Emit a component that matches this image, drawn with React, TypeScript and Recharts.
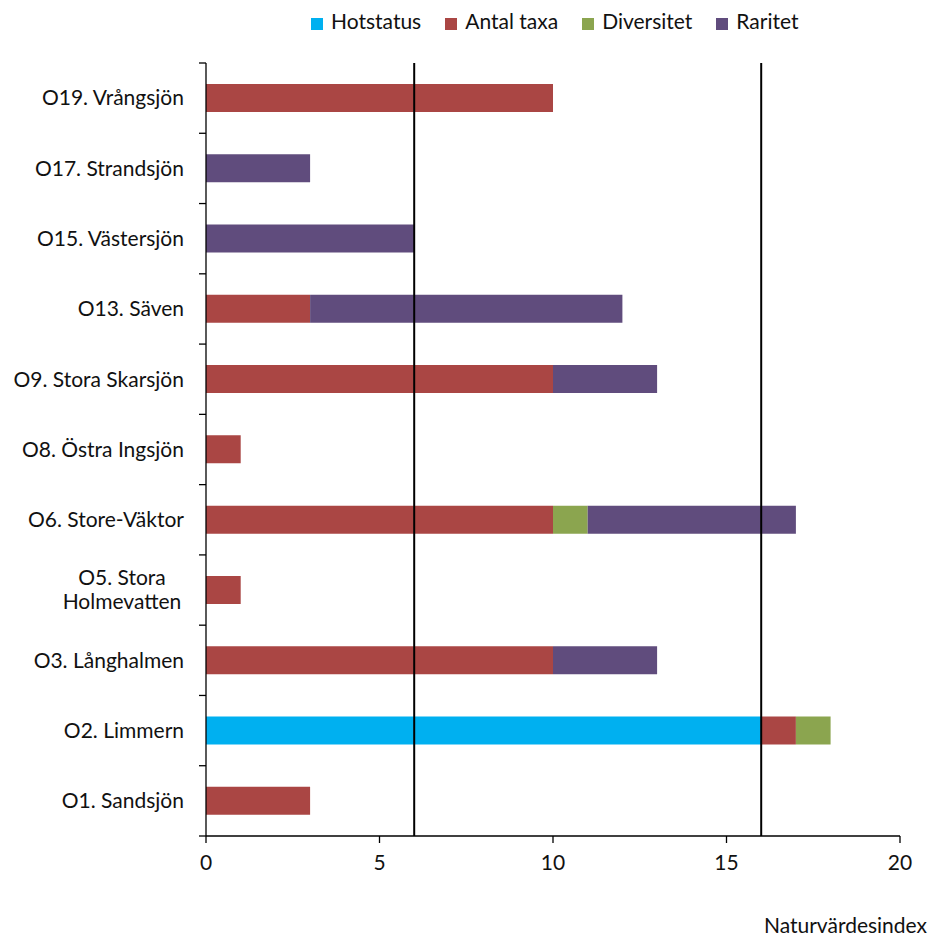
import React from 'react'
import {
  BarChart, Bar, XAxis, YAxis, Legend, ReferenceLine, Label,
} from 'recharts'

const lakes = [
  'O19. Vrångsjön',
  'O17. Strandsjön',
  'O15. Västersjön',
  'O13. Säven',
  'O9. Stora Skarsjön',
  'O8. Östra Ingsjön',
  'O6. Store-Väktor',
  'O5. Stora Holmevatten',
  'O3. Långhalmen',
  'O2. Limmern',
  'O1. Sandsjön',
]
const hotstatus = [0, 0, 0, 0, 0, 0, 0, 0, 0, 16, 0]
const antalTaxa = [10, 0, 0, 3, 10, 1, 10, 1, 10, 1, 3]
const diversitet = [0, 0, 0, 0, 0, 0, 1, 0, 0, 1, 0]
const raritet = [0, 3, 6, 9, 3, 0, 6, 0, 3, 0, 0]
const seriesNames = ['Hotstatus', 'Antal taxa', 'Diversitet', 'Raritet']
const xTicks = [0, 5, 10, 15, 20]
const thresholds = [6, 16]

const data = lakes.map((name, i) => ({
  name,
  hot: hotstatus[i],
  antal: antalTaxa[i],
  div: diversitet[i],
  rar: raritet[i],
}))

const W = 931
const H = 936
const LEGEND_H = 22
const M = { top: 63 - LEGEND_H, right: 31, bottom: 0, left: 0 }
const Y_WIDTH = 206
const X_HEIGHT = 100
const BAND = (836 - 63) / lakes.length
const GAP = 22
const FONT = 'Lato, sans-serif'
const FS = 21

function LakeTick(props: any) {
  const { x, y, payload, index } = props
  const label: string = payload.value
  const ax = x + GAP
  const cut = label.lastIndexOf(' ')
  const lines = label.length > 20 ? [label.slice(0, cut), label.slice(cut + 1)] : [label]
  return (
    <g>
      <line x1={ax - 7} x2={ax} y1={y - BAND / 2} y2={y - BAND / 2} stroke="#000" strokeWidth={1.3} />
      {index === lakes.length - 1 && (
        <line x1={ax - 7} x2={ax} y1={y + BAND / 2} y2={y + BAND / 2} stroke="#000" strokeWidth={1.3} />
      )}
      {lines.length === 1 ? (
        <text x={x} y={y} dy="0.35em" textAnchor="end" fontSize={FS} fontFamily={FONT} fill="#111">
          {label}
        </text>
      ) : (
        lines.map((l, k) => (
          <text key={k} x={x - 62} y={y + (k === 0 ? -12 : 12)} dy="0.35em" textAnchor="middle"
            fontSize={FS} fontFamily={FONT} fill="#111">
            {l}
          </text>
        ))
      )}
    </g>
  )
}

export default function App() {
  return (
    <div style={{ position: 'absolute', left: 0, top: 0, background: '#fff' }}>
      <BarChart width={W} height={H} data={data} layout="vertical" margin={M} barSize={28}>
        <XAxis
          type="number"
          domain={[0, 20]}
          ticks={xTicks}
          height={X_HEIGHT}
          tick={{ fontSize: FS, fontFamily: FONT, fill: '#111' }}
          tickSize={7}
          tickMargin={12}
          stroke="#000"
          strokeWidth={1.3}
        >
          <Label
            value="Naturvärdesindex"
            position="insideBottomRight"
            offset={0}
            dx={27}
            dy={-3}
            style={{ fontSize: FS, fontFamily: FONT, fill: '#111' }}
          />
        </XAxis>
        <YAxis
          type="category"
          dataKey="name"
          width={Y_WIDTH}
          tickLine={false}
          tickSize={0}
          tickMargin={GAP}
          tick={<LakeTick />}
          interval={0}
          stroke="#000"
          strokeWidth={1.3}
        />
        <Legend
          verticalAlign="top"
          align="left"
          iconType="square"
          iconSize={12}
          height={LEGEND_H}
          itemSorter={(item: any) => seriesNames.indexOf(item.value)}
          wrapperStyle={{ top: 8, left: 311, width: 600, fontSize: FS, fontFamily: FONT, color: '#111' }}
          formatter={(v) => <span style={{ color: '#111', marginLeft: 4, marginRight: 14 }}>{v}</span>}
        />
        <Bar dataKey="hot" name={seriesNames[0]} stackId="a" fill="#00B0F0" isAnimationActive={false} />
        <Bar dataKey="antal" name={seriesNames[1]} stackId="a" fill="#AA4644" isAnimationActive={false} />
        <Bar dataKey="div" name={seriesNames[2]} stackId="a" fill="#8BA54F" isAnimationActive={false} />
        <Bar dataKey="rar" name={seriesNames[3]} stackId="a" fill="#604C7D" isAnimationActive={false} />
        {thresholds.map((t) => (
          <ReferenceLine key={t} x={t} stroke="#000" strokeWidth={2} />
        ))}
      </BarChart>
    </div>
  )
}
